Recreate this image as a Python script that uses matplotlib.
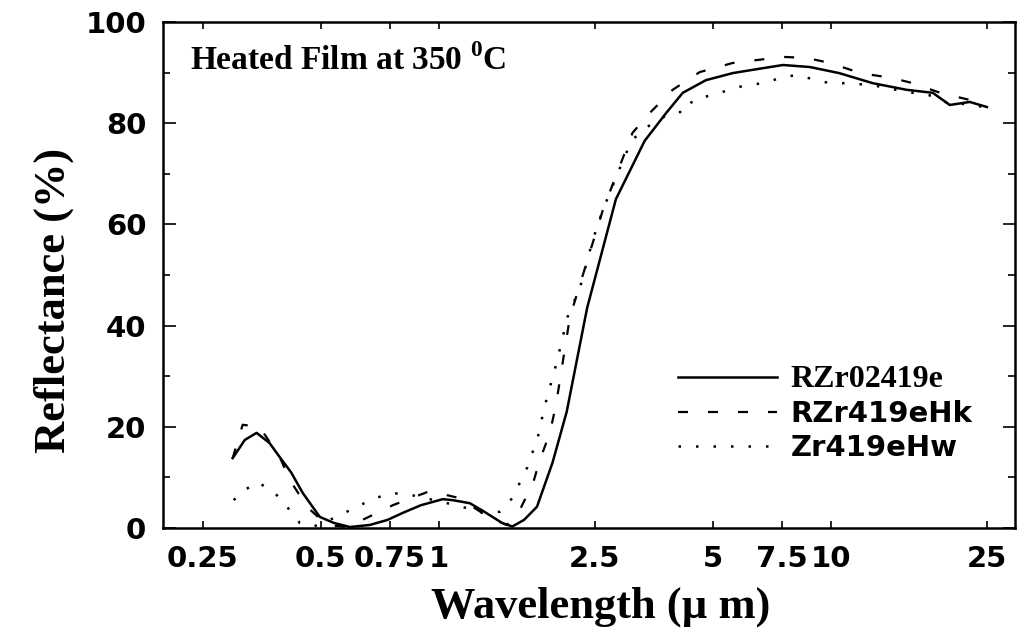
import numpy as np
import matplotlib
matplotlib.use("Agg")
import matplotlib.pyplot as plt
from matplotlib.ticker import FixedLocator, NullFormatter

# wavelength (um) and reflectance (%)
solid_w = [0.298, 0.32, 0.343, 0.37, 0.393, 0.42, 0.450, 0.497, 0.54, 0.593, 0.667,
           0.74, 0.810, 0.90, 1.024, 1.086, 1.20, 1.295, 1.45, 1.54, 1.65, 1.78, 1.95,
           2.12, 2.39, 2.83, 3.35, 3.8, 4.19, 4.8, 5.62, 6.5, 7.55, 8.84, 10.5, 12.8,
           15.6, 18.2, 20.1, 22.6, 25.0]
solid_r = [13.8, 17.4, 18.8, 16.8, 14.0, 11.0, 6.9, 2.2, 1.0, 0.2, 0.6,
           1.6, 3.0, 4.5, 5.7, 5.5, 4.9, 3.4, 1.0, 0.3, 1.6, 4.2, 12.9,
           23.0, 43.5, 65.0, 76.5, 82.0, 86.0, 88.5, 89.9, 90.7, 91.5, 91.1, 89.9, 87.9,
           86.6, 86.0, 83.6, 84.2, 83.2]

dash_w = [0.298, 0.316, 0.349, 0.393, 0.417, 0.461, 0.518, 0.582, 0.655, 0.763, 0.949,
          1.13, 1.22, 1.35, 1.49, 1.61, 1.74, 1.81, 1.92, 1.99, 2.16, 2.62, 3.12, 3.45,
          3.95, 4.63, 5.62, 7.55, 8.68, 9.94, 11.9, 14.4, 16.2, 19.0, 22.6, 25.1]
dash_r = [13.8, 20.4, 20.0, 14.0, 9.5, 4.2, 0.6, 0.2, 2.0, 4.5, 7.3,
          5.9, 4.2, 2.0, 0.6, 3.6, 8.9, 13.4, 18.8, 24.3, 41.7, 62.8, 78.1, 82.0,
          86.6, 90.1, 91.9, 93.1, 92.9, 91.9, 89.9, 88.9, 87.9, 86.0, 84.6, 85.2]

dot_w = [0.300, 0.311, 0.345, 0.382, 0.410, 0.442, 0.48, 0.549, 0.618, 0.687, 0.763,
         0.853, 1.0, 1.145, 1.295, 1.43, 1.54, 1.68, 1.79, 1.86, 2.0, 2.13, 2.29, 2.47,
         2.62, 2.93, 3.11, 3.5, 3.95, 4.29, 4.44, 5.0, 5.86, 6.9, 7.5, 8.19, 9.0, 9.94,
         11.0, 12.8, 15.6, 18.2, 20.1, 22.6, 25.0]
dot_r = [5.5, 6.9, 9.1, 6.9, 4.2, 1.0, 0.3, 2.2, 4.2, 5.9, 6.9,
         6.5, 5.3, 4.2, 3.0, 3.2, 5.9, 11.9, 18.0, 23.9, 32.8, 41.7, 47.4, 56.9,
         62.8, 72.1, 76.7, 80.0, 82.2, 82.2, 84.6, 85.6, 87.2, 88.1, 89.1, 89.5, 88.7, 87.9,
         87.9, 87.5, 86.2, 85.4, 83.8, 83.8, 83.0]

labels = ["RZr02419e", "RZr419eHk", "Zr419eHw"]
xticks = [0.25, 0.5, 0.75, 1, 2.5, 5, 7.5, 10, 25]
xticklabels = ["0.25", "0.5", "0.75", "1", "2.5", "5", "7.5", "10", "25"]

plt.rcParams['mathtext.fontset'] = 'custom'
plt.rcParams['mathtext.rm'] = 'Liberation Serif:bold'
plt.rcParams['mathtext.bf'] = 'Liberation Serif:bold'

fig = plt.figure(figsize=(10.28, 6.30), dpi=100)
ax = fig.add_axes([0.1586, 0.1619, 0.8288, 0.8032])

l1, = ax.plot(solid_w, solid_r, color='black', lw=1.8, ls='-')
l2, = ax.plot(dash_w, dash_r, color='black', lw=1.6, ls=(0, (4.5, 9)))
l3, = ax.plot(dot_w, dot_r, color='black', lw=1.8, ls=(0, (1, 6)))

ax.set_xscale('log')
ax.set_xlim(0.198, 29.5)
ax.set_ylim(0, 100)

ax.xaxis.set_major_locator(FixedLocator(xticks))
ax.set_xticklabels(xticklabels)
ax.xaxis.set_minor_locator(FixedLocator([1, 10]))
ax.xaxis.set_minor_formatter(NullFormatter())
ax.set_yticks([0, 20, 40, 60, 80, 100])
ax.set_yticks(np.arange(0, 101, 10), minor=True)

ax.tick_params(axis='x', which='major', direction='in', length=5, width=1.2,
               top=True, bottom=True, pad=12)
ax.tick_params(axis='x', which='minor', direction='in', length=9, width=1.2,
               top=True, bottom=True)
ax.tick_params(axis='y', which='major', direction='in', length=9, width=1.2,
               left=True, right=True, pad=12)
ax.tick_params(axis='y', which='minor', direction='in', length=5, width=1.2,
               left=True, right=True)
for lab in ax.get_xticklabels() + ax.get_yticklabels():
    lab.set_fontfamily('DejaVu Sans')
    lab.set_fontweight('bold')
    lab.set_fontsize(21)
for sp in ax.spines.values():
    sp.set_linewidth(1.8)

ax.set_xlabel("Wavelength (\u00b5 m)", family='Liberation Serif', weight='bold',
              fontsize=32)
ax.xaxis.set_label_coords(0.514, -0.115)
ax.set_ylabel("Reflectance (%)", family='Liberation Serif', weight='bold',
              fontsize=32)
ax.yaxis.set_label_coords(-0.104, 0.45)

ax.text(0.032, 0.905, r"Heated Film at 350 $^{0}$C", transform=ax.transAxes,
        family='Liberation Serif', weight='bold', fontsize=24, va='baseline')

leg = ax.legend([l1, l2, l3], labels, loc='upper left',
                bbox_to_anchor=(0.6045, 0.322), frameon=False, fontsize=21,
                handlelength=3.4, handletextpad=0.45, labelspacing=0.2,
                borderpad=0, borderaxespad=0)
texts = leg.get_texts()
texts[0].set_family('Liberation Serif')
for t in texts:
    t.set_weight('bold')
texts[0].set_fontsize(23)

fig.savefig("out.png", dpi=100)
